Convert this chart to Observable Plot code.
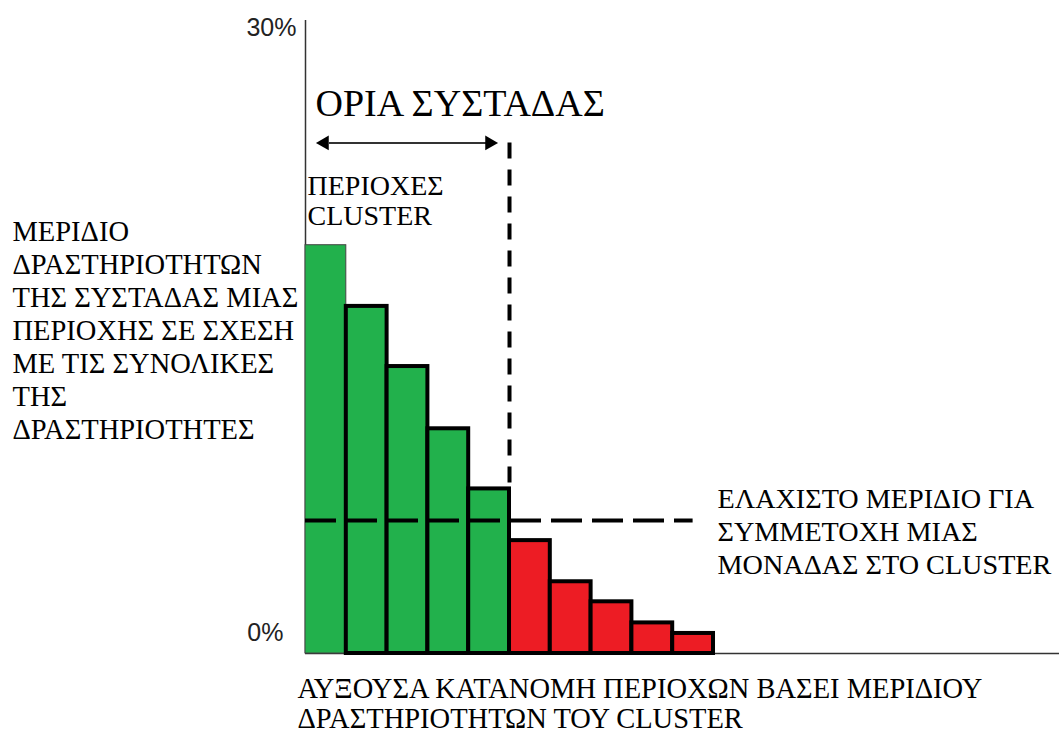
<!DOCTYPE html>
<html>
<head>
<meta charset="utf-8">
<script src="https://cdn.jsdelivr.net/npm/d3@7"></script>
<script src="https://cdn.jsdelivr.net/npm/@observablehq/plot@0.6"></script>
<style>
  html, body { margin: 0; padding: 0; background: #fff; }
  #chart svg { display: block; }
</style>
</head>
<body>
<div id="chart"></div>
<script>
// ---- data ----
const regions = ["1", "2", "3", "4", "5", "6", "7", "8", "9", "10"];
const shares = [19.35, 16.45, 13.6, 10.65, 7.8, 5.35, 3.4, 2.45, 1.45, 0.95];
const threshold = 6.3;           // minimum share for participation
const clusterSize = 5;           // regions inside the cluster boundary
const boundaryTop = 24.2;        // height of the boundary marker
const tickValues = [0, 30];
const tickLabels = ["0%", "30%"];

const titleText = "ΟΡΙΑ ΣΥΣΤΑΔΑΣ";
const clusterText = "ΠΕΡΙΟΧΕΣ\nCLUSTER";
const yLabel = "ΜΕΡΙΔΙΟ\nΔΡΑΣΤΗΡΙΟΤΗΤΩΝ\nΤΗΣ ΣΥΣΤΑΔΑΣ ΜΙΑΣ\nΠΕΡΙΟΧΗΣ ΣΕ ΣΧΕΣΗ\nΜΕ ΤΙΣ ΣΥΝΟΛΙΚΕΣ\nΤΗΣ\nΔΡΑΣΤΗΡΙΟΤΗΤΕΣ";
const thresholdText = "ΕΛΑΧΙΣΤΟ ΜΕΡΙΔΙΟ ΓΙΑ\nΣΥΜΜΕΤΟΧΗ ΜΙΑΣ\nΜΟΝΑΔΑΣ ΣΤΟ CLUSTER";
const xLabel = "ΑΥΞΟΥΣΑ ΚΑΤΑΝΟΜΗ ΠΕΡΙΟΧΩΝ ΒΑΣΕΙ ΜΕΡΙΔΙΟΥ\nΔΡΑΣΤΗΡΙΟΤΗΤΩΝ ΤΟΥ CLUSTER";

const GREEN = "#22b14c", RED = "#ed1c24";
const serif = "'Liberation Serif', 'Times New Roman', serif";
const sans = "'Liberation Sans', Arial, sans-serif";

const bars = regions.map((r, i) => ({
  region: r, i, share: shares[i], inCluster: i < clusterSize
}));

const chart = Plot.plot({
  width: 1059,
  height: 733,
  marginLeft: 305,
  marginRight: 0,
  marginTop: 20,
  marginBottom: 80,
  x: {domain: [0, 18.48], axis: null},
  y: {domain: [0, 30], axis: null},
  style: {background: "#fff", fontFamily: serif, overflow: "visible"},
  marks: [
    // axes lines
    Plot.ruleX([0], {stroke: "#333", strokeWidth: 1.5}),
    Plot.ruleY([0], {stroke: "#333", strokeWidth: 1.5}),
    // tick labels
    Plot.text([tickValues[1]], {x: 0, y: d => d, text: [tickLabels[1]], textAnchor: "end", dx: -9, dy: 7,
      fontFamily: sans, fontSize: 25, fill: "#222"}),
    Plot.text([tickValues[0]], {x: 0, y: d => d, text: [tickLabels[0]], textAnchor: "end", dx: -22, dy: -21,
      fontFamily: sans, fontSize: 25, fill: "#222"}),
    // bars
    Plot.rectY(bars.slice(0, 1), {x1: d => d.i, x2: d => d.i + 1, y: "share",
      fill: GREEN, stroke: "#444", strokeWidth: 1}),
    Plot.rectY(bars.slice(1), {x1: d => d.i, x2: d => d.i + 1, y: "share",
      fill: d => d.inCluster ? GREEN : RED, stroke: "#000", strokeWidth: 4}),
    // threshold dashed line
    Plot.ruleY([threshold], {x1: 0, x2: shares.length - 0.5, stroke: "#000", strokeWidth: 4,
      strokeDasharray: "31,10"}),
    // cluster boundary dashed line
    Plot.ruleX([clusterSize], {y1: boundaryTop, y2: shares[clusterSize - 1], stroke: "#000", strokeWidth: 4,
      strokeDasharray: "16,11"}),
    // double arrow
    Plot.ruleY([boundaryTop], {x1: 0, x2: clusterSize, insetLeft: 24, insetRight: 22, stroke: "#333", strokeWidth: 2}),
    Plot.dot([0], {x: d => d, y: boundaryTop, symbol: "triangle", r: 5.5, rotate: -90, dx: 19, fill: "#000", stroke: "none"}),
    Plot.dot([clusterSize], {x: d => d, y: boundaryTop, symbol: "triangle", r: 5.5, rotate: 90, dx: -20, fill: "#000", stroke: "none"}),
    // annotations
    Plot.text([titleText], {frameAnchor: "top-left", lineAnchor: "middle", text: d => d, textAnchor: "start", dx: 10, dy: 83,
      fontSize: 38, fill: "#000"}),
    Plot.text([clusterText], {frameAnchor: "top-left", lineAnchor: "middle", text: d => d, textAnchor: "start", dx: 2, dy: 180,
      fontSize: 28, lineHeight: 1.08, fill: "#000"}),
    Plot.text([yLabel], {frameAnchor: "top-left", lineAnchor: "middle", text: d => d, textAnchor: "start", dx: -293, dy: 309,
      fontSize: 28.5, lineHeight: 1.16, fill: "#000"}),
    Plot.text([thresholdText], {frameAnchor: "top-left", lineAnchor: "middle", text: d => d, textAnchor: "start", dx: 412, dy: 509.5,
      fontSize: 28.2, lineHeight: 1.17, fill: "#000"}),
    Plot.text([xLabel], {frameAnchor: "top-left", lineAnchor: "middle", text: d => d, textAnchor: "start", dx: -8, dy: 683,
      fontSize: 28.5, lineHeight: 1.05, fill: "#000"})
  ]
});
document.getElementById("chart").append(chart);
</script>
</body>
</html>
